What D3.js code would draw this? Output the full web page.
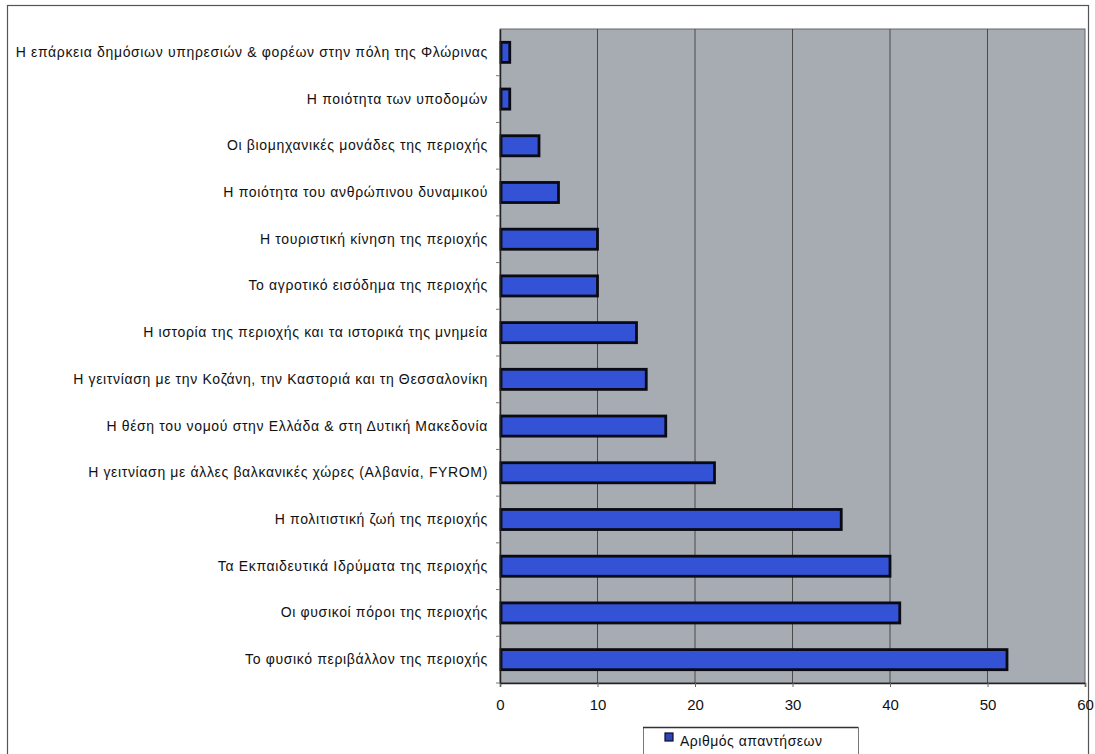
<!DOCTYPE html>
<html><head><meta charset="utf-8">
<script src="https://cdn.jsdelivr.net/npm/d3@7"></script>
<style>body{margin:0;background:#fff;font-family:"Liberation Sans",Arial,sans-serif;}</style>
</head><body>
<svg id="c" width="1095" height="754"></svg>
<script>
const categories = [
  "Η επάρκεια δημόσιων υπηρεσιών & φορέων στην πόλη της Φλώρινας",
  "Η ποιότητα των υποδομών",
  "Οι βιομηχανικές μονάδες της περιοχής",
  "Η ποιότητα του ανθρώπινου δυναμικού",
  "Η τουριστική κίνηση της περιοχής",
  "Το αγροτικό εισόδημα της περιοχής",
  "Η ιστορία της περιοχής και τα ιστορικά της μνημεία",
  "Η γειτνίαση με την Κοζάνη, την Καστοριά και τη Θεσσαλονίκη",
  "Η θέση του νομού στην Ελλάδα & στη Δυτική Μακεδονία",
  "Η γειτνίαση με άλλες βαλκανικές χώρες (Αλβανία, FYROM)",
  "Η πολιτιστική ζωή της περιοχής",
  "Τα Εκπαιδευτικά Ιδρύματα της περιοχής",
  "Οι φυσικοί πόροι της περιοχής",
  "Το φυσικό περιβάλλον της περιοχής"
];
const values = [1, 1, 4, 6, 10, 10, 14, 15, 17, 22, 35, 40, 41, 52];
const xTicks = [0, 10, 20, 30, 40, 50, 60];
const seriesName = "Αριθμός απαντήσεων";

const svg = d3.select("#c");
const L = 500, R = 1085, T = 29, B = 683;
const FONT = "'Liberation Sans', Arial, sans-serif";

// outer chart frame
svg.append("rect").attr("x", 7.5).attr("y", 5.5).attr("width", 1081).attr("height", 760)
  .attr("fill", "#fff").attr("stroke", "#555").attr("stroke-width", 1.2);

const x = d3.scaleLinear().domain([0, 60]).range([L, R]);
const y = d3.scaleBand().domain(categories).range([T, B]).paddingInner(0.57).paddingOuter(0.285);
const yb = d3.scaleBand().domain(categories).range([T, B]);

// plot area
svg.append("rect").attr("x", L).attr("y", T).attr("width", R - L).attr("height", B - T)
  .attr("fill", "#a7acb3").attr("stroke", "#666").attr("stroke-width", 1);

// gridlines
svg.append("g").selectAll("line").data(xTicks.slice(1, -1)).join("line")
  .attr("x1", d => x(d)).attr("x2", d => x(d)).attr("y1", T).attr("y2", B)
  .attr("stroke", "#4a4a4a").attr("stroke-width", 1);

// bars
svg.append("g").selectAll("rect").data(values).join("rect")
  .attr("x", x(0) + 1)
  .attr("y", (d, i) => y(categories[i]))
  .attr("width", d => x(d) - x(0) - 1)
  .attr("height", y.bandwidth())
  .attr("fill", "#3352d6").attr("stroke", "#0a0a14").attr("stroke-width", 2.8);

// x axis
const xAxis = svg.append("g").attr("transform", `translate(0,${B})`)
  .call(d3.axisBottom(x).tickValues(xTicks).tickSize(4).tickPadding(12));
xAxis.select(".domain").attr("stroke", "#222").attr("stroke-width", 1.5);
xAxis.selectAll(".tick line").attr("stroke", "#666");
xAxis.selectAll("text").attr("font-size", 15).attr("fill", "#111").attr("font-family", FONT);

// y axis
const yAxis = svg.append("g").attr("transform", `translate(${L},0)`)
  .call(d3.axisLeft(yb).tickSize(0).tickPadding(12));
yAxis.select(".domain").attr("stroke", "#222").attr("stroke-width", 1.5);
yAxis.selectAll("text").attr("font-size", 14).attr("letter-spacing", 0.65).attr("fill", "#111")
  .attr("font-family", FONT);
// boundary tick marks
svg.append("g").selectAll("line").data(d3.range(1, categories.length + 1)).join("line")
  .attr("x1", L - 4).attr("x2", L).attr("y1", i => T + i * yb.step()).attr("y2", i => T + i * yb.step())
  .attr("stroke", "#777");

// legend
const lg = svg.append("g");
lg.append("rect").attr("x", 643.5).attr("y", 727.5).attr("width", 215).attr("height", 40)
  .attr("fill", "#fff").attr("stroke", "#777");
lg.append("line").attr("x1", 643).attr("x2", 858).attr("y1", 727.5).attr("y2", 727.5).attr("stroke", "#333").attr("stroke-width", 1.5);
lg.append("rect").attr("x", 665).attr("y", 733).attr("width", 8).attr("height", 8)
  .attr("fill", "#2f45b0").attr("stroke", "#0a0a30").attr("stroke-width", 1.2);
lg.append("text").attr("x", 680).attr("y", 746).attr("font-size", 14).attr("letter-spacing", 0.5)
  .attr("fill", "#111").attr("font-family", FONT).text(seriesName);
</script>
</body></html>
